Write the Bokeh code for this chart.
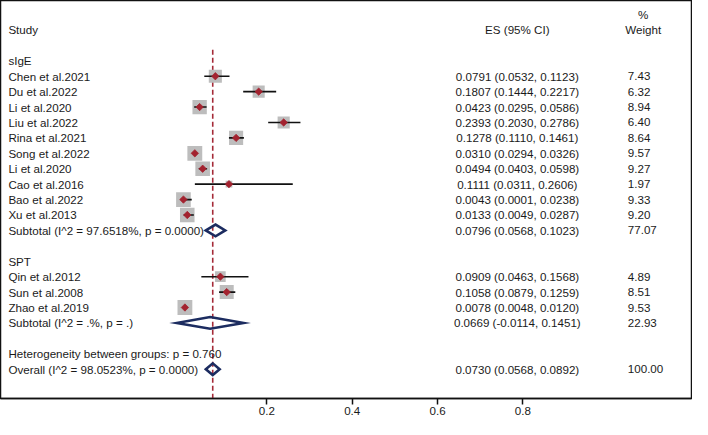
import numpy as np
from bokeh.plotting import figure
from bokeh.models import Range1d, FixedTicker
from bokeh.core.properties import value
from bokeh.embed import file_html
from bokeh.resources import INLINE

# ---------------- data ----------------
group_names = ["sIgE", "SPT"]
studies_sige = ["Chen et al.2021", "Du et al.2022", "Li et al.2020", "Liu et al.2022",
                "Rina et al.2021", "Song et al.2022", "Li et al.2020", "Cao et al.2016",
                "Bao et al.2022", "Xu et al.2013"]
es_sige = [0.0791, 0.1807, 0.0423, 0.2393, 0.1278, 0.0310, 0.0494, 0.1111, 0.0043, 0.0133]
lo_sige = [0.0532, 0.1444, 0.0295, 0.2030, 0.1110, 0.0294, 0.0403, 0.0311, 0.0001, 0.0049]
hi_sige = [0.1123, 0.2217, 0.0586, 0.2786, 0.1461, 0.0326, 0.0598, 0.2606, 0.0238, 0.0287]
w_sige = [7.43, 6.32, 8.94, 6.40, 8.64, 9.57, 9.27, 1.97, 9.33, 9.20]

studies_spt = ["Qin et al.2012", "Sun et al.2008", "Zhao et al.2019"]
es_spt = [0.0909, 0.1058, 0.0078]
lo_spt = [0.0463, 0.0879, 0.0048]
hi_spt = [0.1568, 0.1259, 0.0120]
w_spt = [4.89, 8.51, 9.53]

sub_labels = ["Subtotal  (I^2 = 97.6518%, p = 0.0000)", "Subtotal  (I^2 = .%, p = .)"]
sub_es = [0.0796, 0.0669]
sub_lo = [0.0568, -0.0114]
sub_hi = [0.1023, 0.1451]
sub_w = [77.07, 22.93]

het_label = "Heterogeneity between groups: p = 0.760"
overall_label = "Overall  (I^2 = 98.0523%, p = 0.0000)"
overall_es = 0.0730
overall_lo = 0.0568
overall_hi = 0.0892
overall_w = 100.00

x_ticks = [0.2, 0.4, 0.6, 0.8]

# ---------------- layout ----------------
FONT = value("Liberation Sans")
FS = value("11.6px")
TXT = "#1a1a1a"
X_LABEL = -0.406
X_ES = 0.787
X_W = 1.046
X_WH = 1.082

groups = [
    (group_names[0], studies_sige, es_sige, lo_sige, hi_sige, w_sige),
    (group_names[1], studies_spt, es_spt, lo_spt, hi_spt, w_spt),
]

lab_y, lab_t = [], []
es_y, es_t = [], []
w_y, w_t = [], []
pt_x, pt_y, pt_lo, pt_hi, pt_w = [], [], [], [], []
dia = []  # (y, lo, es, hi)

row = 0
for gi, (gname, names, es, lo, hi, w) in enumerate(groups):
    lab_y.append(-row); lab_t.append(gname)
    row += 1
    for n, e, l, h, ww in zip(names, es, lo, hi, w):
        lab_y.append(-row); lab_t.append(n)
        es_y.append(-row); es_t.append(f"{e:.4f} ({l:.4f}, {h:.4f})")
        w_y.append(-row); w_t.append(f"{ww:.2f}")
        pt_x.append(e); pt_y.append(-row); pt_lo.append(l); pt_hi.append(h); pt_w.append(ww)
        row += 1
    lab_y.append(-row); lab_t.append(sub_labels[gi])
    es_y.append(-row); es_t.append(f"{sub_es[gi]:.4f} ({sub_lo[gi]:.4f}, {sub_hi[gi]:.4f})")
    w_y.append(-row); w_t.append(f"{sub_w[gi]:.2f}")
    dia.append((-row, sub_lo[gi], sub_es[gi], sub_hi[gi]))
    row += 2
lab_y.append(-row); lab_t.append(het_label)
row += 1
lab_y.append(-row); lab_t.append(overall_label)
es_y.append(-row); es_t.append(f"{overall_es:.4f} ({overall_lo:.4f}, {overall_hi:.4f})")
w_y.append(-row); w_t.append(f"{overall_w:.2f}")
dia.append((-row, overall_lo, overall_es, overall_hi))

p = figure(width=692, height=419, output_backend="svg", toolbar_location=None,
           x_range=Range1d(-0.4245, 1.1953), y_range=Range1d(-21.90, 3.91),
           min_border_left=0, min_border_right=1, min_border_top=0, min_border_bottom=21)
p.xgrid.visible = False
p.ygrid.visible = False
p.yaxis.visible = False
p.outline_line_color = "#111111"
p.outline_line_width = 1.5
p.background_fill_color = "white"

ax = p.xaxis[0]
ax.ticker = FixedTicker(ticks=x_ticks)
ax.axis_line_color = "#111111"
ax.axis_line_width = 1.5
ax.major_tick_out = 6
ax.major_tick_in = 0
ax.major_tick_line_width = 1.5
ax.major_tick_line_color = "#111111"
ax.minor_tick_line_color = None
ax.major_label_text_font = "Liberation Sans"
ax.major_label_text_font_size = "11.6px"
ax.major_label_text_color = TXT
ax.major_label_standoff = 2

# reference dashed line
p.segment(x0=[overall_es], y0=[0.72], x1=[overall_es], y1=[-30],
          line_color="#a52a38", line_width=1.6, line_dash="5 3")

# study boxes
sizes = [4.8 * np.sqrt(w) for w in pt_w]
p.scatter(x=pt_x, y=pt_y, size=sizes, marker="square", fill_color="#bdbdbd",
          line_color=None)
# CI lines
p.segment(x0=pt_lo, y0=pt_y, x1=pt_hi, y1=pt_y, line_color="#111111", line_width=1.6)
# point estimates (small rotated squares = diamonds)
p.scatter(x=pt_x, y=pt_y, size=5.2, marker="square", angle=np.pi / 4,
          fill_color="#a3222f", line_color="#a3222f", line_width=0.8)

# diamonds
h = 0.38
xs = [[lo, e, hi, e] for (_, lo, e, hi) in dia]
ys = [[y, y + h, y, y - h] for (y, _, _, _) in dia]
p.patches(xs=xs, ys=ys, fill_color=None, line_color="#1c2c60", line_width=2.6,
          line_join="miter")

# texts
p.text(x=[X_LABEL] * len(lab_y), y=lab_y, text=lab_t, text_font=FONT, text_font_size=FS,
       text_color=TXT, text_baseline="middle", text_align="left")
p.text(x=[X_ES] * len(es_y), y=es_y, text=es_t, text_font=FONT, text_font_size=FS,
       text_color=TXT, text_baseline="middle", text_align="center")
p.text(x=[X_W] * len(w_y), y=w_y, text=w_t, text_font=FONT, text_font_size=FS,
       text_color=TXT, text_baseline="middle", text_align="left")

# headers
p.text(x=[X_LABEL], y=[2.02], text=["Study"], text_font=FONT, text_font_size=FS,
       text_color=TXT, text_baseline="middle", text_align="left")
p.text(x=[X_ES], y=[2.02], text=["ES (95% CI)"], text_font=FONT, text_font_size=FS,
       text_color=TXT, text_baseline="middle", text_align="center")
p.text(x=[X_WH, X_WH], y=[2.97, 2.02], text=["%", "Weight"], text_font=FONT,
       text_font_size=FS, text_color=TXT, text_baseline="middle", text_align="center")

open("out.html", "w").write(file_html(p, INLINE))
